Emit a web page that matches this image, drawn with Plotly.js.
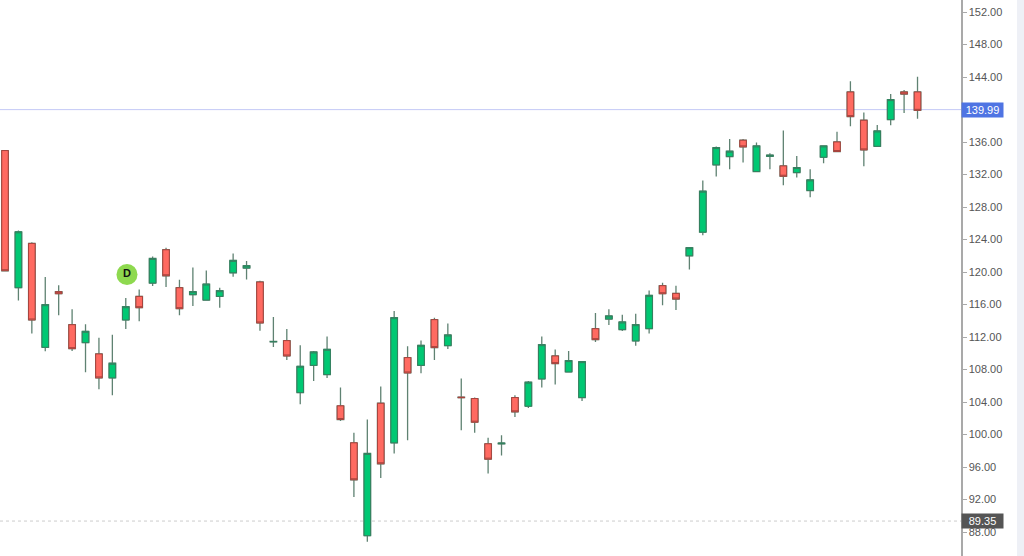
<!DOCTYPE html>
<html>
<head>
<meta charset="utf-8">
<script src="https://cdn.plot.ly/plotly-3.0.1.min.js"></script>
<style>html,body{margin:0;padding:0;background:#fff;overflow:hidden}#chart{width:1024px;height:556px}</style>
</head>
<body>
<div id="chart"></div>
<script>
var opens = [134.95,118.07,123.52,110.74,117.58,113.52,111.31,109.92,106.97,114.10,117.00,118.64,122.74,118.07,117.21,116.55,117.00,119.91,120.49,118.77,111.41,111.56,105.16,108.52,107.38,
103.53,98.98,87.55,103.85,98.98,109.47,108.52,114.14,110.94,104.60,104.43,98.86,98.86,104.55,103.49,106.84,109.67,107.70,104.55,113.03,114.22,112.91,
111.52,113.03,118.32,117.37,122.00,124.91,133.19,134.21,136.22,132.37,134.25,133.06,132.24,130.03,134.13,136.01,142.16,138.68,135.48,138.76,142.16,142.16];
var closes = [120.16,124.95,114.10,115.98,117.33,110.57,112.70,106.97,108.77,115.73,115.61,121.67,119.54,115.49,117.58,118.52,117.70,121.43,120.77,113.73,111.45,109.67,108.40,110.16,110.49,
101.85,94.43,97.67,96.40,114.38,107.58,110.98,110.70,112.25,104.54,101.52,96.97,98.94,102.79,106.44,111.06,108.73,109.10,108.97,111.68,114.59,113.85,
113.52,117.13,117.33,116.68,122.99,129.95,135.32,134.87,135.40,135.52,134.37,131.79,132.86,131.34,135.52,134.83,139.13,135.03,137.36,141.22,141.91,139.90];
var highs = [135.0,125.1,123.68,119.38,118.36,115.41,113.56,111.92,112.29,116.80,117.86,121.92,122.99,119.05,120.57,120.20,118.07,122.29,121.35,118.93,114.46,112.99,110.98,110.29,112.05,
105.78,100.21,101.85,105.90,115.20,110.86,111.56,114.38,113.65,106.89,104.55,99.59,99.92,104.84,106.60,112.05,110.45,110.29,108.97,114.96,115.41,114.75,
114.87,117.74,118.68,118.32,122.99,131.26,135.44,136.38,136.38,135.93,134.62,137.41,134.29,132.65,135.56,137.28,143.47,139.62,138.10,141.91,142.40,144.04];
var lows = [120.1,116.51,112.42,110.25,114.67,110.29,107.66,105.57,104.84,112.99,113.93,118.27,118.15,114.67,115.82,116.55,115.61,119.42,119.09,112.78,110.78,109.18,103.73,106.60,106.97,
101.68,92.30,86.81,94.64,97.67,99.31,107.54,109.18,110.53,100.54,100.21,95.21,97.42,102.17,103.28,105.78,106.15,107.62,104.14,111.39,113.48,112.74,
110.94,112.42,115.90,115.32,120.32,124.54,131.75,132.65,133.47,132.37,132.65,130.69,131.63,129.21,133.39,134.83,137.94,133.02,135.48,138.06,139.58,138.88];
var tickValues = [88,92,96,100,104,108,112,116,120,124,128,132,136,144,148,152];
var tickLabels = ["88.00","92.00","96.00","100.00","104.00","108.00","112.00","116.00","120.00","124.00","128.00","132.00","136.00","144.00","148.00","152.00"];
var lastPrice = 139.99, lowPrice = 89.35;
var markerIndex = [9.09], markerPrice = [119.7], markerText = ["<b>D</b>"];

var xs = opens.map(function(_, i){ return i; });
var bodyTop = opens.map(function(o, i){ return Math.max(o, closes[i]); });
var bodyBot = opens.map(function(o, i){ return Math.min(o, closes[i]); });

var wickColor = "#5f8272";
var wicks = {type:"candlestick", x:xs, open:opens, high:highs, low:lows, close:closes,
  whiskerwidth:0, hoverinfo:"skip", showlegend:false,
  increasing:{line:{color:wickColor,width:1.3},fillcolor:"#00c873"},
  decreasing:{line:{color:wickColor,width:1.3},fillcolor:"#ff6a61"}};
var bodies = {type:"candlestick", x:xs, open:opens, high:bodyTop, low:bodyBot, close:closes,
  whiskerwidth:0, hoverinfo:"skip", showlegend:false,
  increasing:{line:{color:"#34805f",width:1},fillcolor:"#00c873"},
  decreasing:{line:{color:"#a8433d",width:1},fillcolor:"#ff6a61"}};
var marker = {type:"scatter", mode:"markers+text", x:markerIndex, y:markerPrice, text:markerText,
  textposition:"middle center", textfont:{family:"Liberation Sans, Arial, sans-serif",size:11,color:"#111"},
  marker:{size:21,color:"#8ed94f",line:{width:0}}, hoverinfo:"skip", showlegend:false};

var layout = {
  width:1024, height:556,
  margin:{l:0,r:63,t:0,b:0,pad:0},
  paper_bgcolor:"#ffffff", plot_bgcolor:"#ffffff",
  boxgap:0.3, boxmode:"overlay",
  showlegend:false, hovermode:false, dragmode:false,
  xaxis:{visible:false, type:"linear", range:[-0.373,71.24], fixedrange:true, rangeslider:{visible:false}},
  yaxis:{side:"right", type:"linear", range:[85.05,153.48], fixedrange:true, showgrid:false, zeroline:false,
    showline:true, linecolor:"#a9a9a9", linewidth:1.5,
    ticks:"outside", ticklen:4, tickwidth:1, tickcolor:"#a9a9a9",
    tickmode:"array", tickvals:tickValues, ticktext:tickLabels,
    tickfont:{family:"Liberation Sans, Arial, sans-serif",size:11,color:"#555555"}},
  shapes:[
    {type:"line",layer:"below",xref:"paper",x0:0,x1:1,yref:"y",y0:lastPrice,y1:lastPrice,line:{color:"#c4c9f7",width:1}},
    {type:"line",layer:"below",xref:"paper",x0:0,x1:1,yref:"y",y0:lowPrice,y1:lowPrice,line:{color:"#cccccc",width:1,dash:"dot"}},
    {type:"rect",xref:"paper",x0:1.0583,x1:1.0656,yref:"paper",y0:0,y1:1,line:{width:0},fillcolor:"#eef0f6"}
  ],
  annotations:[
    {xref:"paper",x:1,xanchor:"left",yref:"y",y:lastPrice,yanchor:"middle",text:lastPrice.toFixed(2),showarrow:false,
     width:41,height:14,borderpad:0,bgcolor:"#4f74e3",align:"center",
     font:{family:"Liberation Sans, Arial, sans-serif",size:11,color:"#ffffff"}},
    {xref:"paper",x:1,xanchor:"left",yref:"y",y:lowPrice,yanchor:"middle",text:lowPrice.toFixed(2),showarrow:false,
     width:41,height:14,borderpad:0,bgcolor:"#555555",align:"center",
     font:{family:"Liberation Sans, Arial, sans-serif",size:11,color:"#ffffff"}}
  ]
};
Plotly.newPlot("chart",[wicks,bodies,marker],layout,{displayModeBar:false,staticPlot:true});
</script>
</body>
</html>
